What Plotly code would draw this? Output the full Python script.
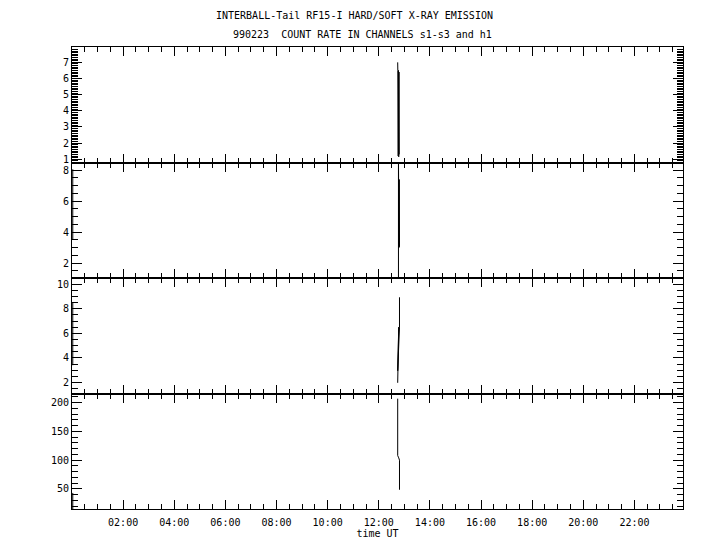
import plotly.graph_objects as go
from plotly.subplots import make_subplots

# ---- data (hours UT, count rates) ----
# channel s1
t_s1 = [12.74, 12.745, 12.76, 12.77, 12.78, 12.79, 12.80]
v_s1 = [7.0, 6.5, 1.2, 6.5, 1.15, 6.4, 1.3]
# channel s2 (left-edge segment, gap, burst)
t_s2 = [0.03, 0.03, None, 12.77, 12.77, 12.78, 12.79, 12.80, 12.81]
v_s2 = [8.06, 3.55, None, 0.5, 9.0, 7.5, 3.0, 7.4, 3.05]
# channel s3
t_s3 = [0.03, 0.03, None, 12.81, 12.81, 12.74, 12.78, 12.75, 12.80, 12.74, 12.74]
v_s3 = [8.5, 3.4, None, 8.93, 6.5, 2.95, 6.5, 3.0, 6.45, 2.95, 1.97]
# channel h1
t_h1 = [0.03, 0.03, None, 12.74, 12.74, 12.78, 12.81, 12.81]
v_h1 = [43, 15, None, 207, 108, 104, 100, 48.5]

x_tickvals = [2, 4, 6, 8, 10, 12, 14, 16, 18, 20, 22]
x_ticktext = ["02:00", "04:00", "06:00", "08:00", "10:00", "12:00",
              "14:00", "16:00", "18:00", "20:00", "22:00"]

y_ranges = [[0.8, 7.95], [1.03, 8.5], [1.1, 10.5], [15, 216]]
y_dticks = [1, 2, 2, 50]
y_minor = [0.1, 0.5, 0.5, 10]

title1 = "INTERBALL-Tail RF15-I HARD/SOFT X-RAY EMISSION"
title2 = "990223\u00a0 COUNT RATE IN CHANNELS s1-s3 and h1"

FONT = "DejaVu Sans Mono"

fig = make_subplots(rows=4, cols=1, shared_xaxes=True, vertical_spacing=0)

series = [(t_s1, v_s1), (t_s2, v_s2), (t_s3, v_s3), (t_h1, v_h1)]
for i, (t, v) in enumerate(series):
    fig.add_trace(go.Scatter(x=t, y=v, mode="lines",
                             line=dict(color="black", width=1),
                             connectgaps=False, showlegend=False),
                  row=i + 1, col=1)

for i in range(4):
    fig.update_yaxes(range=y_ranges[i], tick0=0, dtick=y_dticks[i],
                     ticks="inside", ticklen=10, tickwidth=1, tickcolor="black",
                     showline=True, linecolor="black", linewidth=1,
                     mirror="ticks", showgrid=False, zeroline=False,
                     minor=dict(tick0=0, dtick=y_minor[i], ticks="inside",
                                ticklen=6, tickwidth=1, tickcolor="black",
                                showgrid=False),
                     tickfont=dict(family=FONT, size=10, color="black"),
                     row=i + 1, col=1)
    fig.update_xaxes(range=[0, 23.9], tickmode="array",
                     tickvals=x_tickvals, ticktext=x_ticktext,
                     ticks="inside", ticklen=9, tickwidth=1, tickcolor="black",
                     showline=True, linecolor="black", linewidth=1,
                     mirror="ticks", showgrid=False, zeroline=False,
                     minor=dict(tickmode="linear", tick0=0, dtick=0.5,
                                ticks="inside", ticklen=5, tickwidth=1,
                                tickcolor="black", showgrid=False),
                     tickfont=dict(family=FONT, size=10, color="black"),
                     showticklabels=(i == 3),
                     row=i + 1, col=1)

fig.update_xaxes(title=dict(text="time UT", standoff=2,
                            font=dict(family=FONT, size=10, color="black")),
                 ticklabelstandoff=4, row=4, col=1)

fig.add_annotation(text=title1, xref="paper", yref="paper",
                   x=0.462, y=1.069, showarrow=False,
                   xanchor="center", yanchor="middle",
                   font=dict(family=FONT, size=10, color="black"))
fig.add_annotation(text=title2, xref="paper", yref="paper",
                   x=0.475, y=1.026, showarrow=False,
                   xanchor="center", yanchor="middle",
                   font=dict(family=FONT, size=10, color="black"))

fig.update_layout(width=712, height=542,
                  margin=dict(l=64, r=37, t=39, b=41),
                  paper_bgcolor="white", plot_bgcolor="white",
                  showlegend=False)

fig.write_html("out.html")
